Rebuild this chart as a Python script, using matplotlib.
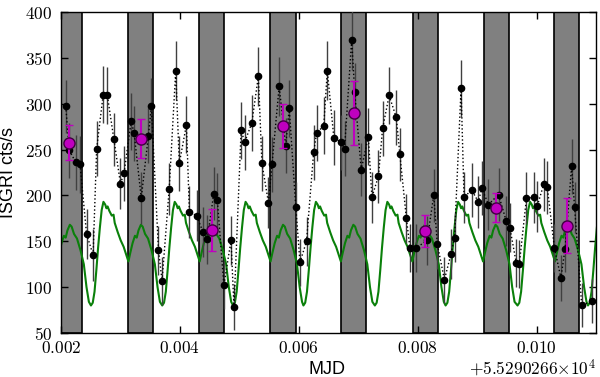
import matplotlib
matplotlib.use("Agg")
import matplotlib.pyplot as plt
from matplotlib.ticker import FixedLocator, FuncFormatter

plt.rcParams['mathtext.fontset'] = 'cm'

# time axis: MJD - 55290.266
# ISGRI light curve (black points)
t_pts = [0.00208, 0.00214, 0.00225, 0.00232, 0.00243, 0.00254, 0.00260, 0.00271,
         0.00278, 0.00289, 0.00300, 0.00306, 0.00318, 0.00323, 0.00335, 0.00347,
         0.00352, 0.00364, 0.00370, 0.00382, 0.00393, 0.00399, 0.00411, 0.00416,
         0.00428, 0.00439, 0.00446, 0.00457, 0.00463, 0.00474, 0.00486, 0.00491,
         0.00503, 0.00509, 0.00521, 0.00532, 0.00538, 0.00549, 0.00555, 0.00567,
         0.00578, 0.00584, 0.00595, 0.00602, 0.00613, 0.00625, 0.00630, 0.00642,
         0.00648, 0.00659, 0.00671, 0.00677, 0.00689, 0.00694, 0.00705, 0.00717,
         0.00723, 0.00734, 0.00741, 0.00752, 0.00764, 0.00770, 0.00781, 0.00787,
         0.00798, 0.00816, 0.00827, 0.00833, 0.00845, 0.00856, 0.00862, 0.00873,
         0.00878, 0.00891, 0.00902, 0.00908, 0.00919, 0.00936, 0.00949, 0.00955,
         0.00966, 0.00971, 0.00983, 0.00995, 0.01001, 0.01012, 0.01018, 0.01030,
         0.01041, 0.01048, 0.01059, 0.01064, 0.01076, 0.01093]
rate = [297, 249, 236, 234, 158, 135, 251, 310, 309, 261, 213, 224, 281, 268, 197, 265,
        297, 140, 107, 207, 336, 235, 277, 182, 178, 160, 152, 202, 195, 102, 151, 78,
        271, 258, 279, 330, 235, 192, 234, 319, 254, 295, 187, 127, 150, 247, 268, 276,
        336, 263, 258, 251, 370, 313, 228, 264, 198, 221, 273, 309, 285, 245, 175, 143,
        143, 151, 200, 147, 108, 136, 154, 317, 198, 206, 193, 208, 190, 201, 172, 165,
        126, 125, 197, 198, 188, 212, 209, 143, 110, 142, 232, 187, 80, 85]
rate_err = [29, 30, 30, 31, 27, 28, 30, 31, 31, 29, 28, 30, 31, 30, 28, 30,
            31, 27, 26, 28, 32, 30, 31, 28, 28, 27, 27, 29, 29, 26, 27, 25,
            31, 30, 31, 32, 30, 28, 30, 32, 30, 31, 28, 26, 27, 30, 31, 31,
            32, 30, 30, 30, 33, 31, 29, 31, 28, 29, 30, 31, 30, 29, 27, 26,
            26, 27, 29, 27, 25, 27, 27, 31, 28, 29, 28, 29, 28, 29, 27, 27,
            26, 26, 28, 28, 28, 29, 29, 26, 25, 26, 30, 28, 24, 24]

# binned averages (magenta)
t_bin = [0.00214, 0.00334, 0.00454, 0.00573, 0.00693, 0.00812, 0.00932, 0.01052]
rate_bin = [257.5, 261.8, 162.3, 275.3, 289.9, 161.2, 186.7, 166.9]
rate_bin_err = [19, 21, 23, 24, 35, 17, 16, 30]

# shaded intervals
band_start = [0.00194, 0.00313, 0.00432, 0.00551, 0.00671, 0.00792, 0.00911, 0.01030]
band_end = [0.00236, 0.00355, 0.00474, 0.00595, 0.00713, 0.00834, 0.00953, 0.01072]

# green template: one cycle profile (phase in 1e-3 d after minimum) and cycle minima
tmpl_phase = [0.00, 0.03, 0.06, 0.09, 0.12, 0.15, 0.18, 0.21, 0.24, 0.26, 0.28, 0.31,
              0.35, 0.38, 0.40, 0.45, 0.50, 0.55, 0.60, 0.63, 0.66, 0.70, 0.74, 0.77,
              0.80, 0.84, 0.87, 0.91, 0.96, 1.02, 1.075, 1.12, 1.16]
tmpl_rate = [80, 83, 95, 118, 143, 165, 184, 193, 190, 186, 188, 183,
             178, 179, 170, 160, 151, 144, 134, 128, 137, 148, 156, 154,
             162, 168, 166, 158, 153, 140, 125, 100, 84]
cycle_min = [0.001309, 0.002504, 0.003703, 0.004895, 0.006078, 0.007280,
             0.008470, 0.009680, 0.010865]

green_t, green_r = [], []
for t0 in cycle_min:
    for ph, r in zip(tmpl_phase, tmpl_rate):
        green_t.append(t0 + ph * 1e-3)
        green_r.append(r)

fig = plt.figure(figsize=(6, 3.77), dpi=100)
ax = fig.add_axes([61/600, 1 - 333/377, 535/600, 321/377])

for s, e in zip(band_start, band_end):
    ax.axvspan(s, e, facecolor='#808080', edgecolor='k', lw=1.2, zorder=0)

ax.plot(green_t, green_r, color='#0a800a', lw=1.5, zorder=2)

ax.errorbar(t_pts, rate, yerr=rate_err, fmt='o', color='k', ms=4.5,
            ecolor='0.25', elinewidth=1, zorder=3)
ax.plot(t_pts, rate, ls=':', color='k', lw=1, zorder=3)

ax.errorbar(t_bin, rate_bin, yerr=rate_bin_err, fmt='o', ms=8, mfc='m', mec='#400040',
            mew=1, ecolor='m', elinewidth=1.5, capsize=3, capthick=1.2, zorder=4)

ax.set_xlim(0.002, 0.011)
ax.set_ylim(50, 400)
ax.xaxis.set_major_locator(FixedLocator([0.002, 0.004, 0.006, 0.008, 0.010]))
ax.yaxis.set_major_locator(FixedLocator([50, 100, 150, 200, 250, 300, 350, 400]))
ax.xaxis.set_major_formatter(FuncFormatter(lambda v, p: r'$%.3f$' % v))
ax.yaxis.set_major_formatter(FuncFormatter(lambda v, p: r'$%d$' % v))
ax.tick_params(direction='in', length=5, width=1, top=True, right=True,
               labelsize=12.5)
ax.tick_params(axis='x', pad=4)
ax.tick_params(axis='y', pad=6)
for sp in ax.spines.values():
    sp.set_linewidth(1)

ax.set_ylabel('ISGRI cts/s', fontsize=13, family='Liberation Sans')
ax.yaxis.set_label_coords(-0.082, 0.5)
ax.set_xlabel('MJD', fontsize=13, family='Liberation Sans', labelpad=0)
ax.xaxis.set_label_coords(0.497, -0.088)
fig.text(0.993, 1 - 368/377, r'$+5.5290266{\times}10^{4}$', ha='right', va='center',
         fontsize=12.5)

fig.savefig('out.png', dpi=100)
